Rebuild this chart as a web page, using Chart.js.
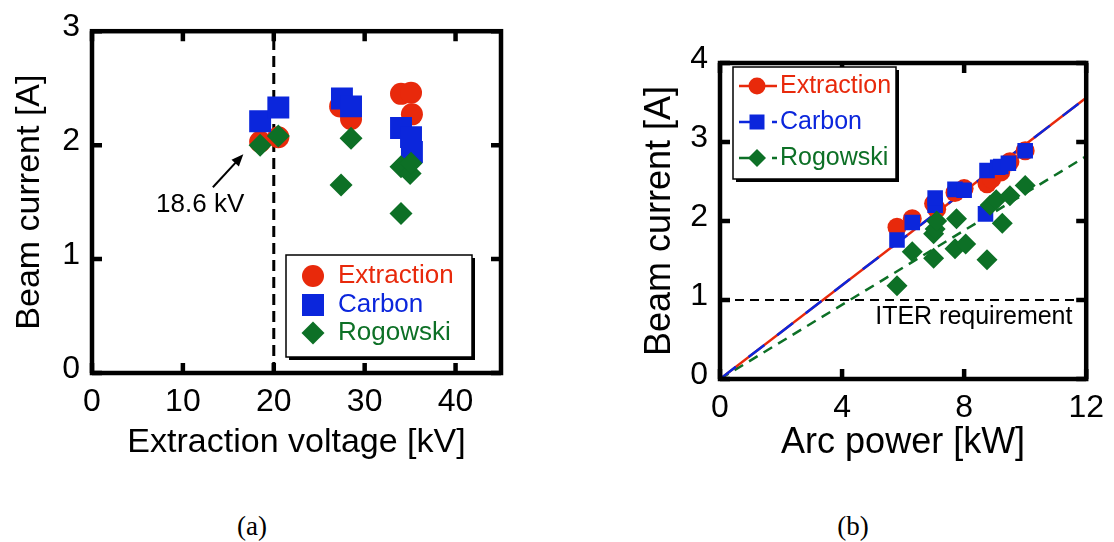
<!DOCTYPE html>
<html>
<head>
<meta charset="utf-8">
<script src="https://cdn.jsdelivr.net/npm/chart.js@4.4.1/dist/chart.umd.min.js"></script>
<style>
  body { margin: 0; background: #fff; width: 1114px; height: 542px; position: relative; overflow: hidden; }
  canvas { position: absolute; top: 0; }
  #chartA { left: 0; }
  #chartB { left: 620px; }
  .cap { position: absolute; top: 509px; width: 60px; text-align: center; font-family: "Liberation Serif", "Times New Roman", serif; font-size: 27px; line-height: 34px; color: #000; }
</style>
</head>
<body>
<canvas id="chartA" width="540" height="470"></canvas>
<canvas id="chartB" width="494" height="470"></canvas>
<div class="cap" style="left:222px">(a)</div>
<div class="cap" style="left:823px">(b)</div>
<script>
// (a) beam current vs extraction voltage
const aTicksX = [0, 10, 20, 30, 40];
const aTicksY = [0, 1, 2, 3];
const aExtractionX = [18.5, 20.5, 27.3, 28.5, 34.0, 35.1, 35.2];
const aExtractionY = [2.03, 2.07, 2.34, 2.23, 2.45, 2.46, 2.27];
const aCarbonX = [18.5, 20.5, 27.5, 28.5, 34.0, 35.1, 35.2];
const aCarbonY = [2.21, 2.33, 2.41, 2.34, 2.15, 2.07, 1.94];
const aRogowskiX = [18.5, 20.5, 27.4, 28.5, 34.0, 34.0, 35.0, 35.1];
const aRogowskiY = [2.00, 2.08, 1.65, 2.06, 1.40, 1.81, 1.75, 1.84];
const aLimitX = [20, 20];
const aLimitY = [0, 3];

// (b) beam current vs arc power
const bTicksX = [0, 4, 8, 12];
const bTicksY = [0, 1, 2, 3, 4];
const bExtractionX = [5.8, 6.3, 7.0, 7.1, 7.7, 8.0, 8.75, 8.9, 9.2, 9.5, 10.0];
const bExtractionY = [1.92, 2.03, 2.22, 2.15, 2.36, 2.41, 2.47, 2.53, 2.62, 2.75, 2.89];
const bCarbonX = [5.8, 6.3, 7.05, 7.05, 7.7, 8.0, 8.7, 8.75, 9.1, 9.2, 9.45, 10.0];
const bCarbonY = [1.76, 1.98, 2.20, 2.29, 2.40, 2.39, 2.09, 2.64, 2.68, 2.69, 2.73, 2.89];
const bRogowskiX = [5.8, 6.3, 7.0, 7.0, 7.05, 7.1, 7.7, 7.75, 8.05, 8.75, 8.85, 9.05, 9.25, 9.5, 10.0];
const bRogowskiY = [1.18, 1.61, 1.53, 1.84, 1.90, 2.00, 1.65, 2.03, 1.71, 1.51, 2.20, 2.27, 1.97, 2.32, 2.45];
const bFitX = [0, 12];
const bExtractionFitY = [0, 3.56];
const bCarbonFitY = [0, 3.56];
const bRogowskiFitY = [0, 2.82];
const bIterX = [0, 12];
const bIterY = [1, 1];

const RED = "#e8290b";
const BLUE = "#0b26dc";
const GREEN = "#0d7026";
const FONT = "'Liberation Sans', Arial, sans-serif";

function pts(xs, ys) {
  return xs.map((x, i) => ({ x: x, y: ys[i] }));
}

function drawMarker(ctx, style, x, y, r, color) {
  ctx.fillStyle = color;
  ctx.beginPath();
  if (style === "circle") {
    ctx.arc(x, y, r, 0, Math.PI * 2);
  } else if (style === "rect") {
    ctx.rect(x - r, y - r, 2 * r, 2 * r);
  } else {
    ctx.moveTo(x, y - r);
    ctx.lineTo(x + r, y);
    ctx.lineTo(x, y + r);
    ctx.lineTo(x - r, y);
    ctx.closePath();
  }
  ctx.fill();
}

// box with inward tick marks on all four sides
const framePlugin = {
  id: "frame",
  afterDatasetsDraw(chart) {
    const { ctx, chartArea: a, scales: { x, y } } = chart;
    ctx.save();
    ctx.strokeStyle = "#000";
    ctx.lineWidth = 4.5;
    ctx.strokeRect(a.left, a.top, a.right - a.left, a.bottom - a.top);
    ctx.beginPath();
    x.ticks.forEach(t => {
      const px = x.getPixelForValue(t.value);
      ctx.moveTo(px, a.bottom); ctx.lineTo(px, a.bottom - 10);
      ctx.moveTo(px, a.top); ctx.lineTo(px, a.top + 10);
    });
    y.ticks.forEach(t => {
      const py = y.getPixelForValue(t.value);
      ctx.moveTo(a.left, py); ctx.lineTo(a.left + 10, py);
      ctx.moveTo(a.right, py); ctx.lineTo(a.right - 10, py);
    });
    ctx.stroke();
    ctx.restore();
  }
};

// legend drawn inside the plot, with a drop shadow
const boxLegendPlugin = {
  id: "boxLegend",
  afterDraw(chart, args, opts) {
    const ctx = chart.ctx;
    const b = opts.box;
    ctx.save();
    ctx.fillStyle = "#000";
    ctx.fillRect(b.x + 3, b.y + 3, b.w, b.h);
    ctx.fillStyle = "#fff";
    ctx.fillRect(b.x, b.y, b.w, b.h);
    ctx.strokeStyle = "#000";
    ctx.lineWidth = 1.5;
    ctx.strokeRect(b.x, b.y, b.w, b.h);
    opts.items.forEach((it, i) => {
      const y = opts.rowY[i];
      if (it.line) {
        ctx.strokeStyle = it.color;
        ctx.lineWidth = 2.5;
        ctx.setLineDash(it.dash || []);
        ctx.beginPath();
        ctx.moveTo(opts.lineX[0], y);
        ctx.lineTo(opts.lineX[1], y);
        ctx.stroke();
        ctx.setLineDash([]);
      }
      drawMarker(ctx, it.style, opts.markerX, y, it.size, it.color);
      ctx.fillStyle = it.color;
      ctx.font = opts.fontSize + "px " + FONT;
      ctx.textAlign = "left";
      ctx.textBaseline = "middle";
      ctx.fillText(it.label, opts.textX, y);
    });
    ctx.restore();
  }
};

// free text and arrows placed in data coordinates
const notesPlugin = {
  id: "notes",
  afterDatasetsDraw(chart, args, opts) {
    const { ctx, scales: { x, y } } = chart;
    ctx.save();
    (opts.arrows || []).forEach(ar => {
      const x0 = x.getPixelForValue(ar.from[0]), y0 = y.getPixelForValue(ar.from[1]);
      const x1 = x.getPixelForValue(ar.to[0]), y1 = y.getPixelForValue(ar.to[1]);
      const ang = Math.atan2(y1 - y0, x1 - x0);
      ctx.strokeStyle = "#000";
      ctx.fillStyle = "#000";
      ctx.lineWidth = 2;
      ctx.beginPath();
      ctx.moveTo(x0, y0);
      ctx.lineTo(x1 - 8 * Math.cos(ang), y1 - 8 * Math.sin(ang));
      ctx.stroke();
      ctx.beginPath();
      ctx.moveTo(x1, y1);
      ctx.lineTo(x1 - 12 * Math.cos(ang) + 5 * Math.sin(ang), y1 - 12 * Math.sin(ang) - 5 * Math.cos(ang));
      ctx.lineTo(x1 - 12 * Math.cos(ang) - 5 * Math.sin(ang), y1 - 12 * Math.sin(ang) + 5 * Math.cos(ang));
      ctx.closePath();
      ctx.fill();
    });
    (opts.texts || []).forEach(t => {
      ctx.fillStyle = "#000";
      ctx.font = t.size + "px " + FONT;
      ctx.textAlign = t.align;
      ctx.textBaseline = "middle";
      ctx.fillText(t.text, x.getPixelForValue(t.at[0]), y.getPixelForValue(t.at[1]));
    });
    ctx.restore();
  }
};

function axis(min, max, ticks, title, o) {
  return {
    type: "linear",
    min: min,
    max: max,
    afterBuildTicks: s => { s.ticks = ticks.map(v => ({ value: v })); },
    afterFit: s => { if (o.width) s.width = o.width; if (o.height) s.height = o.height; },
    grid: { display: false, drawTicks: false },
    border: { display: false },
    ticks: { color: "#000", font: { family: FONT, size: 32 }, padding: o.pad, labelOffset: o.labelOffset || 0 },
    title: { display: true, text: title, color: "#000", font: { family: FONT, size: o.titleSize }, padding: o.titlePad }
  };
}

function scatterSet(data, style, radius, color, order) {
  return {
    data: data,
    pointStyle: style,
    pointRadius: radius,
    pointHoverRadius: radius,
    backgroundColor: color,
    borderColor: color,
    borderWidth: 0,
    order: order
  };
}

function lineSet(data, color, width, dash, order) {
  return {
    data: data,
    showLine: true,
    pointRadius: 0,
    borderColor: color,
    borderWidth: width,
    borderDash: dash,
    order: order
  };
}

new Chart(document.getElementById("chartA"), {
  type: "scatter",
  data: {
    datasets: [
      scatterSet(pts(aExtractionX, aExtractionY), "circle", 11, RED, 3),
      scatterSet(pts(aCarbonX, aCarbonY), "rect", 15.5, BLUE, 2),
      scatterSet(pts(aRogowskiX, aRogowskiY), "rectRot", 11.5, GREEN, 1),
      lineSet(pts(aLimitX, aLimitY), "#000", 3, [11, 6], 4)
    ]
  },
  options: {
    responsive: false,
    animation: false,
    layout: { padding: { top: 28, right: 39, left: 0, bottom: 0 } },
    scales: {
      x: axis(0, 45, aTicksX, "Extraction voltage [kV]", { height: 97, pad: 10, titleSize: 34, titlePad: { top: 0, bottom: 7 } }),
      y: axis(0, 3, aTicksY, "Beam current [A]", { width: 92, pad: 12, labelOffset: -4, titleSize: 34, titlePad: { top: 9, bottom: 0 } })
    },
    plugins: {
      legend: { display: false },
      tooltip: { enabled: false },
      notes: {
        arrows: [{ from: [13.3, 1.63], to: [16.65, 1.92] }],
        texts: [{ text: "18.6 kV", at: [11.9, 1.48], size: 26, align: "center" }]
      },
      boxLegend: {
        box: { x: 286, y: 255, w: 186, h: 102 },
        markerX: 313, textX: 338, rowY: [276, 305, 333], fontSize: 26,
        items: [
          { label: "Extraction", style: "circle", size: 11, color: RED },
          { label: "Carbon", style: "rect", size: 11, color: BLUE },
          { label: "Rogowski", style: "diamond", size: 11.5, color: GREEN }
        ]
      }
    }
  },
  plugins: [framePlugin, notesPlugin, boxLegendPlugin]
});

new Chart(document.getElementById("chartB"), {
  type: "scatter",
  data: {
    datasets: [
      scatterSet(pts(bExtractionX, bExtractionY), "circle", 9.5, RED, 3),
      scatterSet(pts(bCarbonX, bCarbonY), "rect", 11, BLUE, 2),
      scatterSet(pts(bRogowskiX, bRogowskiY), "rectRot", 10.5, GREEN, 1),
      lineSet(pts(bFitX, bCarbonFitY), BLUE, 2.5, [20, 16], 4),
      lineSet(pts(bFitX, bExtractionFitY), RED, 2.5, [], 5),
      lineSet(pts(bFitX, bRogowskiFitY), GREEN, 2.5, [10, 7], 6),
      lineSet(pts(bIterX, bIterY), "#000", 2, [9, 6], 7)
    ]
  },
  options: {
    responsive: false,
    animation: false,
    layout: { padding: { top: 63, right: 21, left: 0, bottom: 0 } },
    scales: {
      x: axis(0, 12, bTicksX, "Arc power [kW]", { height: 91, pad: 10, titleSize: 36, titlePad: { top: 0, bottom: 5 } }),
      y: axis(0, 4, bTicksY, "Beam current [A]", { width: 100, pad: 12, labelOffset: -4, titleSize: 36, titlePad: { top: 18, bottom: 0 } })
    },
    plugins: {
      legend: { display: false },
      tooltip: { enabled: false },
      notes: {
        texts: [{ text: "ITER requirement", at: [11.55, 0.78], size: 25, align: "right" }]
      },
      boxLegend: {
        box: { x: 113, y: 67, w: 163, h: 112 },
        markerX: 137, textX: 160, rowY: [86, 122, 158], lineX: [119, 157], fontSize: 25,
        items: [
          { label: "Extraction", style: "circle", size: 8.5, color: RED, line: true },
          { label: "Carbon", style: "rect", size: 7.5, color: BLUE, line: true, dash: [13, 20] },
          { label: "Rogowski", style: "diamond", size: 9, color: GREEN, line: true, dash: [13, 20] }
        ]
      }
    }
  },
  plugins: [framePlugin, notesPlugin, boxLegendPlugin]
});
</script>
</body>
</html>
